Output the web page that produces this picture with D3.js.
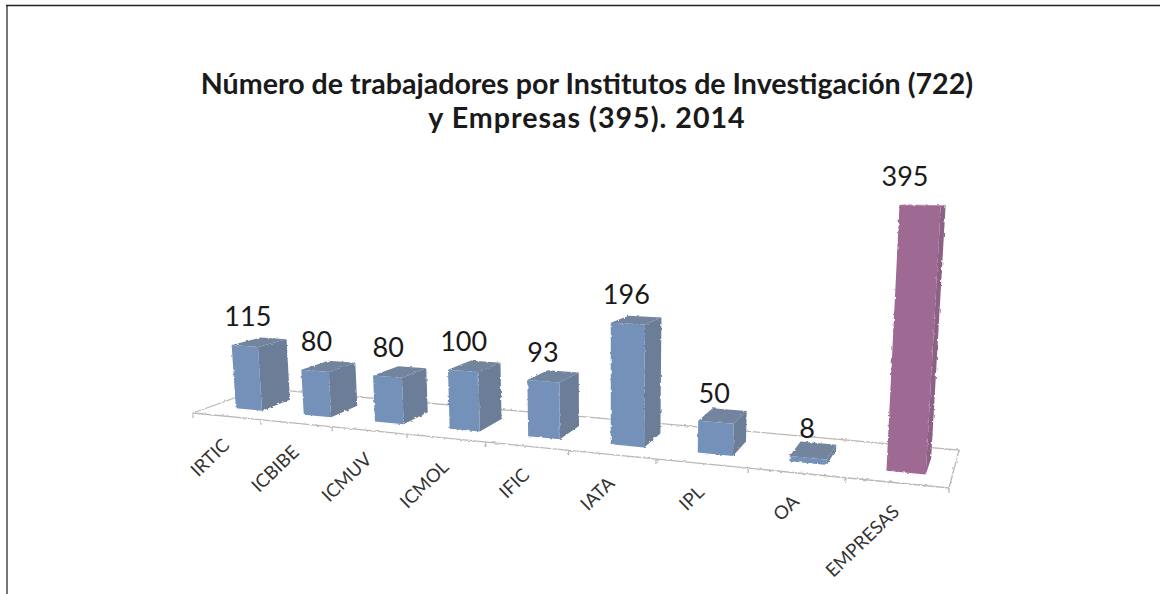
<!DOCTYPE html>
<html><head><meta charset="utf-8">
<script src="https://cdn.jsdelivr.net/npm/d3@7"></script>
<style>html,body{margin:0;padding:0;background:#fff}svg{display:block}</style></head>
<body><svg id="c" width="1160" height="594"></svg>
<script>
const categories=["IRTIC","ICBIBE","ICMUV","ICMOL","IFIC","IATA","IPL","OA","EMPRESAS"];
const values=[115,80,80,100,93,196,50,8,395];
const titleLines=["Número de trabajadores por Institutos de Investigación (722)","y Empresas (395). 2014"];
const FONT="Lato, Carlito, sans-serif";
const svg=d3.select("#c");

// Rough raster edge of the original 3D bars and floor
const flt=svg.append("defs").append("filter").attr("id","rough").attr("x","-5%").attr("y","-5%").attr("width","110%").attr("height","110%");
flt.append("feTurbulence").attr("type","fractalNoise").attr("baseFrequency",0.3).attr("numOctaves",1).attr("seed",3).attr("result","n");
flt.append("feDisplacementMap").attr("in","SourceGraphic").attr("in2","n").attr("scale",3);

// Floor plane: homography of unit square onto the floor quad
const Q={a:[193,413],b:[949,488],c:[959,450],d:[261,388.3]};
function homography(p0,p1,p2,p3){
  const dx1=p1[0]-p2[0],dx2=p3[0]-p2[0],sx=p0[0]-p1[0]+p2[0]-p3[0];
  const dy1=p1[1]-p2[1],dy2=p3[1]-p2[1],sy=p0[1]-p1[1]+p2[1]-p3[1];
  const det=dx1*dy2-dx2*dy1;
  const g=(sx*dy2-dx2*sy)/det,h=(dx1*sy-sx*dy1)/det;
  const a=p1[0]-p0[0]+g*p1[0],b=p3[0]-p0[0]+h*p3[0],c=p0[0];
  const d=p1[1]-p0[1]+g*p1[1],e=p3[1]-p0[1]+h*p3[1],f=p0[1];
  return (s,t)=>{const w=g*s+h*t+1;return [(a*s+b*t+c)/w,(d*s+e*t+f)/w];};
}
const H=homography(Q.a,Q.b,Q.c,Q.d);
const uScale=d3.scaleLinear().domain([0,categories.length]).range([0,1]);
const depthScale=d3.scaleLinear().domain([0,1]).range([0.27,0.7]);
const kScale=d3.scaleLinear().domain([233,924]).range([0.548,0.68]);
const VX=610, LEAN=0.000178, BACK=0.06;
function P(u,v,val,d){
  const [x,y]=H(uScale(u),v);
  const h=val*kScale(x)*(1-BACK*d);
  return [x+(x-VX)*LEAN*h,y-h];
}
const poly=pts=>d3.line()(pts)+"Z";

// Frame
svg.append("path").attr("d",d3.line()([[7,594],[7,5.5]])).attr("fill","none").attr("stroke","#555").attr("stroke-width",1.6);
svg.append("path").attr("d",d3.line()([[6,5.5],[1160,5.5]])).attr("fill","none").attr("stroke","#222").attr("stroke-width",1.3);

// Floor
const floor=svg.append("g").attr("fill","none").attr("stroke","#bdb7b4").attr("stroke-width",1.3).attr("filter","url(#rough)");
floor.append("path").attr("d",poly([Q.a,Q.b,Q.c,Q.d]));
d3.range(0,categories.length+1).forEach(i=>{
  const p=H(uScale(i),0);
  floor.append("line").attr("x1",p[0]).attr("y1",p[1]).attr("x2",p[0]).attr("y2",p[1]+5);
});

// Bars
const U0=0.355,U1=0.745;
const gBars=svg.append("g").attr("filter","url(#rough)");
const colorFront=i=>i===8?"#9e6b93":"#7391b9";
const colorSide=i=>i===8?"#8d6085":"#6c7d97";
const colorTop=i=>i===8?"#a06c95":"#73849e";
categories.forEach((cat,i)=>{
  const v=values[i],f=depthScale(0),b=depthScale(1),u0=i+U0,u1=i+U1;
  const g=gBars.append("g");
  g.append("path").attr("d",poly([P(u1,f,0,0),P(u1,b,0,1),P(u1,b,v,1),P(u1,f,v,0)])).attr("fill",colorSide(i));
  g.append("path").attr("d",poly([P(u0,f,v,0),P(u1,f,v,0),P(u1,b,v,1),P(u0,b,v,1)])).attr("fill",colorTop(i));
  g.append("path").attr("d",poly([P(u0,f,0,0),P(u1,f,0,0),P(u1,f,v,0),P(u0,f,v,0)])).attr("fill",colorFront(i));
  const t=P((u0+u1)/2,f,v,0), base=P((u0+u1)/2,f,0,0);
  svg.append("text").attr("x",base[0]-1).attr("y",t[1]-29).attr("dy","0.35em").attr("text-anchor","middle")
    .attr("font-family",FONT).attr("font-size",27).attr("fill","#1a1a1a").text(v);
  const c=H(uScale(i+0.5),0);
  svg.append("text").attr("transform",`translate(${c[0]-5},${c[1]+21}) rotate(-44)`)
    .attr("text-anchor","end").attr("dy","0.7em").attr("font-family",FONT).attr("font-size",18.5).attr("fill","#333").text(cat);
});

// Title
svg.append("g").selectAll("text").data(titleLines).join("text")
  .attr("x",587).attr("y",(d,i)=>94+i*33.5).attr("text-anchor","middle")
  .attr("letter-spacing",(d,i)=>i?"1px":null)
  .attr("font-family",FONT).attr("font-weight",700).attr("font-size",28.6).attr("fill","#1a1a1a").text(d=>d);
</script></body></html>
